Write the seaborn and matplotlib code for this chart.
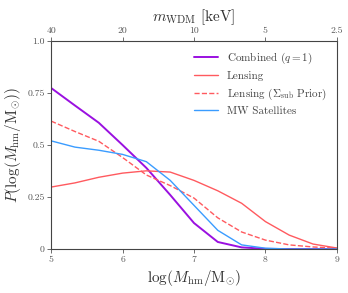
import numpy as np
import pandas as pd
import matplotlib
matplotlib.use("Agg")
import matplotlib.pyplot as plt
import seaborn as sns

log_mhm = [5.0, 5.333, 5.667, 6.0, 6.333, 6.667, 7.0, 7.333, 7.667, 8.0, 8.333, 8.667, 9.0]
combined = [0.774, 0.69, 0.607, 0.50, 0.39, 0.26, 0.125, 0.034, 0.008, 0.001, 0.0, 0.0, 0.0]
lensing = [0.298, 0.318, 0.345, 0.365, 0.376, 0.370, 0.330, 0.280, 0.220, 0.132, 0.067, 0.024, 0.005]
lensing_prior = [0.615, 0.565, 0.518, 0.44, 0.356, 0.305, 0.245, 0.150, 0.082, 0.043, 0.020, 0.010, 0.004]
mw_sats = [0.52, 0.49, 0.475, 0.455, 0.42, 0.33, 0.21, 0.09, 0.02, 0.004, 0.0, 0.0, 0.0]

series_names = ["Combined ($q=1$)", "Lensing", r"Lensing ($\Sigma_{\rm sub}$ Prior)", "MW Satellites"]
series_vals = [combined, lensing, lensing_prior, mw_sats]
colors = ["#9A10E0", "#FF5A5F", "#FF5A5F", "#3A9CFF"]
styles = ["-", "-", "--", "-"]

yticks = [0, 0.25, 0.5, 0.75, 1.0]
ytick_labels = ["0", "0.25", "0.5", "0.75", "1.0"]
xticks = [5, 6, 7, 8, 9]
m_wdm_ticks = [40, 20, 10, 5, 2.5]
m_wdm_labels = ["40", "20", "10", "5", "2.5"]

sns.set_style("ticks")
plt.rcParams["font.family"] = ["cmr10", "DejaVu Serif"]
plt.rcParams["mathtext.fontset"] = "cm"
plt.rcParams["axes.formatter.use_mathtext"] = True
plt.rcParams["axes.unicode_minus"] = False

fig = plt.figure(figsize=(3.48, 2.93), dpi=100)
ax = fig.add_axes([0.147, 0.150, 0.821, 0.710])

for name, vals, c, ls in zip(series_names, series_vals, colors, styles):
    df = pd.DataFrame({"x": log_mhm, "y": vals})
    lw = 1.4 if name.startswith("Combined") else 1.0
    sns.lineplot(data=df, x="x", y="y", ax=ax, color=c, linestyle=ls, linewidth=lw, label=name)

ax.set_xlim(5, 9)
ax.set_ylim(0, 1.0)
ax.set_xticks(xticks)
ax.set_xticklabels([str(t) for t in xticks])
ax.set_yticks(yticks)
ax.set_yticklabels(ytick_labels)
ax.set_xlabel(r"$\log(M_{\rm hm}/{\rm M}_{\odot})$", fontsize=11, color="#333333", labelpad=3)
ax.set_ylabel(r"$P(\log(M_{\rm hm}/{\rm M}_{\odot}))$", fontsize=11, color="#333333", labelpad=3)
ax.tick_params(axis="both", labelsize=7, colors="#555555", length=3, width=0.6, pad=1.5)
for s in ax.spines.values():
    s.set_color("#444444")
    s.set_linewidth(0.8)

leg = ax.legend(loc="upper right", frameon=False, fontsize=8, handlelength=2.2,
                labelspacing=0.45, borderaxespad=0.5)
for t in leg.get_texts():
    t.set_color("#444444")

ax2 = ax.twiny()
ax2.set_xlim(ax.get_xlim())
ax2.set_xticks([5 + np.log2(40.0 / m) for m in m_wdm_ticks])
ax2.set_xticklabels(m_wdm_labels)
ax2.tick_params(axis="x", labelsize=7, colors="#555555", length=3, width=0.6, pad=1.5)
ax2.set_xlabel(r"$m_{\rm WDM}$ [keV]", fontsize=11, color="#333333", labelpad=4)
for s in ax2.spines.values():
    s.set_visible(False)

fig.savefig("out.png", dpi=100)
